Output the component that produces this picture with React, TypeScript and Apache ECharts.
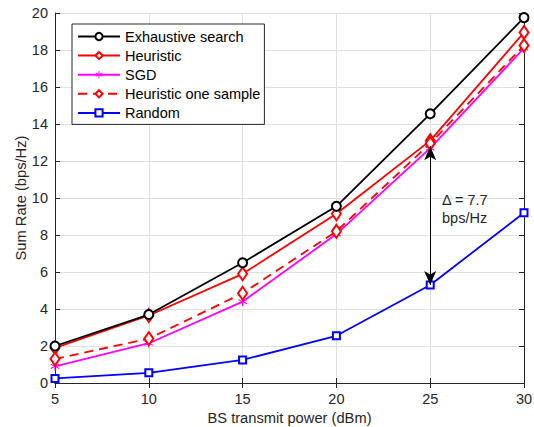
import React, { useEffect, useRef } from "react";
import * as echarts from "echarts";

const powers = [5, 10, 15, 20, 25, 30];
const exhaustive = [2.0, 3.7, 6.5, 9.55, 14.55, 19.75];
const heuristic = [1.9, 3.65, 5.9, 9.15, 13.1, 18.95];
const sgd = [0.9, 2.15, 4.4, 8.05, 12.7, 18.1];
const heuristicOne = [1.3, 2.4, 4.85, 8.2, 12.95, 18.25];
const randomRate = [0.25, 0.55, 1.25, 2.55, 5.3, 9.2];
const seriesNames = ["Exhaustive search", "Heuristic", "SGD", "Heuristic one sample", "Random"];
const yTicks = { min: 0, max: 20, interval: 2 };
const xTicks = { min: 5, max: 30, interval: 5 };
const deltaFrom = 12.8;
const deltaTo = 5.3;

const asterisk =
  "path://M4.4,0 L5.6,0 L5.6,4.2 L9.2,2.1 L9.8,3.1 L6.2,5 L9.8,6.9 L9.2,7.9 L5.6,5.8 L5.6,10 L4.4,10 L4.4,5.8 L0.8,7.9 L0.2,6.9 L3.8,5 L0.2,3.1 L0.8,2.1 L4.4,4.2 Z";

const pairs = (ys: number[]) => powers.map((x, i) => [x, ys[i]]);

export default function App() {
  const ref = useRef<HTMLDivElement>(null);
  useEffect(() => {
    if (!ref.current) return;
    const chart = echarts.init(ref.current, undefined, { renderer: "svg" });
    const font = "Liberation Sans";
    const axisCommon = {
      axisLine: { show: true, lineStyle: { color: "#262626", width: 1 } },
      axisTick: { show: true, inside: true, length: 5, lineStyle: { color: "#262626" } },
    };
    chart.setOption({
      animation: false,
      textStyle: { fontFamily: font },
      grid: { left: 55, right: 10, top: 13, bottom: 44, containLabel: false, outerBoundsMode: "none" },
      xAxis: [
        {
          type: "value",
          ...xTicks,
          ...axisCommon,
          axisLabel: { color: "#262626", fontSize: 14.5, margin: 8, fontFamily: font },
          splitLine: { show: true, lineStyle: { color: "#dfdfdf" } },
          name: "BS transmit power (dBm)",
          nameLocation: "middle",
          nameGap: 27,
          nameMoveOverlap: false,
          nameTextStyle: { color: "#262626", fontSize: 14.7, fontFamily: font },
        },
        {
          type: "value",
          position: "top",
          ...xTicks,
          ...axisCommon,
          axisLabel: { show: false },
          splitLine: { show: false },
        },
      ],
      yAxis: [
        {
          type: "value",
          ...yTicks,
          ...axisCommon,
          axisLabel: { color: "#262626", fontSize: 14.5, margin: 7, fontFamily: font },
          splitLine: { show: true, lineStyle: { color: "#dfdfdf" } },
          name: "Sum Rate (bps/Hz)",
          nameLocation: "middle",
          nameGap: 27,
          nameMoveOverlap: false,
          nameTextStyle: { color: "#262626", fontSize: 14.7, fontFamily: font },
        },
        {
          type: "value",
          position: "right",
          ...yTicks,
          ...axisCommon,
          axisLabel: { show: false },
          splitLine: { show: false },
        },
      ],
      legend: {
        left: 72,
        top: 24,
        orient: "vertical",
        backgroundColor: "#ffffff",
        borderColor: "#262626",
        borderWidth: 1,
        borderRadius: 0,
        padding: [5, 4, 4, 5],
        itemWidth: 42,
        itemHeight: 9,
        itemGap: 4.1,
        textStyle: { color: "#000", fontSize: 14.5, fontFamily: font },
        data: seriesNames,
      },
      series: [
        {
          name: seriesNames[0],
          type: "line",
          data: pairs(exhaustive),
          symbol: "emptyCircle",
          symbolSize: 9,
          color: "#000000",
          lineStyle: { width: 1.8, color: "#000000" },
          itemStyle: { color: "#000000", borderWidth: 1.6 },
          z: 5,
        },
        {
          name: seriesNames[1],
          type: "line",
          data: pairs(heuristic),
          symbol: "emptyDiamond",
          symbolSize: [9, 13],
          color: "#ff0000",
          lineStyle: { width: 1.8, color: "#ff0000" },
          itemStyle: { color: "#ff0000", borderWidth: 1.6 },
          z: 4,
        },
        {
          name: seriesNames[2],
          type: "line",
          data: pairs(sgd),
          symbol: asterisk,
          symbolSize: 9,
          color: "#ff00ff",
          lineStyle: { width: 1.8, color: "#ff00ff" },
          itemStyle: { color: "#ff00ff" },
          z: 3,
        },
        {
          name: seriesNames[3],
          type: "line",
          data: pairs(heuristicOne),
          symbol: "emptyDiamond",
          symbolSize: [9, 13],
          color: "#ff0000",
          lineStyle: { width: 1.8, color: "#ff0000", type: [9, 6] },
          itemStyle: { color: "#ff0000", borderWidth: 1.6 },
          z: 4,
        },
        {
          name: seriesNames[4],
          type: "line",
          data: pairs(randomRate),
          symbol: "emptyRect",
          symbolSize: 7,
          color: "#0000ff",
          lineStyle: { width: 1.8, color: "#0000ff" },
          itemStyle: { color: "#0000ff", borderWidth: 1.6 },
          z: 3,
          markLine: {
            silent: true,
            symbol: ["arrow", "arrow"],
            symbolSize: [9, 14],
            label: { show: false },
            lineStyle: { color: "#000", width: 1, type: "solid" },
            data: [[{ coord: [25, deltaFrom] }, { coord: [25, deltaTo] }]],
            z: 10,
          },
        },
      ],
      graphic: [
        {
          type: "text",
          left: 442,
          top: 191,
          z: 100,
          style: {
            text: "\u0394 = 7.7\nbps/Hz",
            fill: "#262626",
            font: `14.5px ${font}`,
            lineHeight: 18,
          },
        },
      ],
    });
    return () => chart.dispose();
  }, []);
  return <div ref={ref} style={{ width: 534, height: 427, position: "absolute", left: 0, top: 0 }} />;
}
